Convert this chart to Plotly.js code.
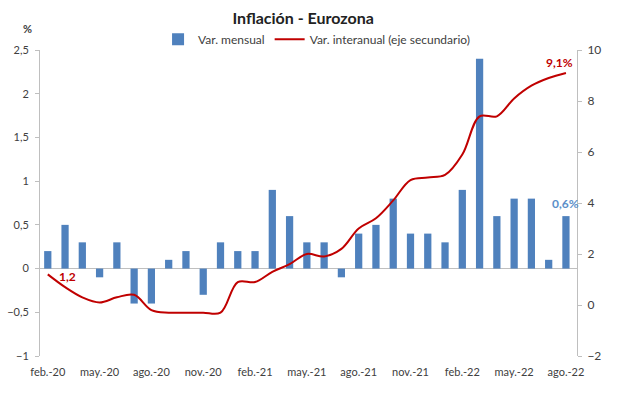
<!DOCTYPE html>
<html>
<head>
<meta charset="utf-8">
<script src="https://cdn.plot.ly/plotly-3.0.1.min.js"></script>
<style>html,body{margin:0;padding:0;background:#fff;}#chart{width:617px;height:394px;}</style>
</head>
<body>
<div id="chart"></div>
<script>
const months = ["feb.-20","mar.-20","abr.-20","may.-20","jun.-20","jul.-20","ago.-20","sep.-20","oct.-20","nov.-20","dic.-20",
  "ene.-21","feb.-21","mar.-21","abr.-21","may.-21","jun.-21","jul.-21","ago.-21","sep.-21","oct.-21","nov.-21","dic.-21",
  "ene.-22","feb.-22","mar.-22","abr.-22","may.-22","jun.-22","jul.-22","ago.-22"];
const varMensual = [0.2,0.5,0.3,-0.1,0.3,-0.4,-0.4,0.1,0.2,-0.3,0.3,
  0.2,0.2,0.9,0.6,0.3,0.3,-0.1,0.4,0.5,0.8,0.4,0.4,
  0.3,0.9,2.4,0.6,0.8,0.8,0.1,0.6];
const varInteranual = [1.2,0.7,0.3,0.1,0.3,0.4,-0.2,-0.3,-0.3,-0.3,-0.3,
  0.9,0.9,1.3,1.6,2.0,1.9,2.2,3.0,3.4,4.1,4.9,5.0,
  5.1,5.9,7.4,7.4,8.1,8.6,8.9,9.1];
const tickMonths = months.filter((m, i) => i % 3 === 0);

const FONT = "Lato, 'Open Sans', sans-serif";
const axisGray = "#bfbfbf";
const blue = "#4f81bd";
const red = "#c00000";
const last = months.length - 1;

const traces = [
  {type: "bar", x: months, y: varMensual, name: "Var. mensual", marker: {color: blue}, width: 0.42, yaxis: "y"},
  {type: "scatter", mode: "lines", x: months, y: varInteranual, name: "Var. interanual (eje secundario)",
   line: {color: red, width: 2, shape: "spline", smoothing: 1}, yaxis: "y2"}
];

const layout = {
  width: 617, height: 394,
  margin: {l: 40, r: 40, t: 50, b: 38},
  paper_bgcolor: "#fff", plot_bgcolor: "#fff",
  separators: ",.",
  font: {family: FONT, size: 11, color: "#404040"},
  title: {text: "<b>Inflación - Eurozona</b>", font: {family: FONT, size: 16, color: "#222"},
          x: 0.49, xref: "paper", y: 0.953, yref: "container", yanchor: "middle"},
  showlegend: true,
  legend: {orientation: "h", x: 0.515, xanchor: "center", y: 1.035, yanchor: "middle", itemwidth: 30,
           font: {family: FONT, size: 12, color: "#404040"}, bgcolor: "rgba(0,0,0,0)", traceorder: "normal"},
  xaxis: {type: "category", range: [-0.45, 30.64], tickmode: "array", tickvals: tickMonths, ticktext: tickMonths,
          showline: false, ticks: "", showgrid: false, zeroline: false, ticklabelstandoff: 8,
          tickfont: {size: 11, color: "#404040"}},
  yaxis: {range: [-1, 2.5], dtick: 0.5, showgrid: false, zeroline: true, zerolinecolor: axisGray, zerolinewidth: 1,
          showline: true, linecolor: axisGray, ticks: "outside", ticklen: 4, tickcolor: axisGray,
          ticklabelstandoff: 4, tickfont: {size: 11, color: "#404040"}},
  yaxis2: {range: [-2, 10], dtick: 2, overlaying: "y", side: "right", showgrid: false, zeroline: false,
           showline: true, linecolor: axisGray, ticks: "outside", ticklen: 4, tickcolor: axisGray,
           ticklabelstandoff: 3, tickfont: {size: 12, color: "#404040"}},
  annotations: [
    {text: "<b>%</b>", xref: "paper", yref: "paper", x: -0.035, y: 1.07, yanchor: "middle", showarrow: false,
     font: {family: FONT, size: 11, color: "#404040"}},
    {text: "<b>1,2</b>", x: months[0], y: varInteranual[0], xref: "x", yref: "y2", showarrow: false,
     xshift: 20, yshift: -2, font: {family: FONT, size: 12, color: red}},
    {text: "<b>9,1%</b>", x: months[last], y: varInteranual[last], xref: "x", yref: "y2", showarrow: false,
     xshift: -6, yshift: 10, font: {family: FONT, size: 12, color: red}},
    {text: "<b>0,6%</b>", x: months[last], y: varMensual[last], xref: "x", yref: "y", showarrow: false,
     xshift: 0, yshift: 13, font: {family: FONT, size: 12, color: "#5b8fc9"}}
  ]
};

Plotly.newPlot("chart", traces, layout, {displayModeBar: false, staticPlot: true});
</script>
</body>
</html>
